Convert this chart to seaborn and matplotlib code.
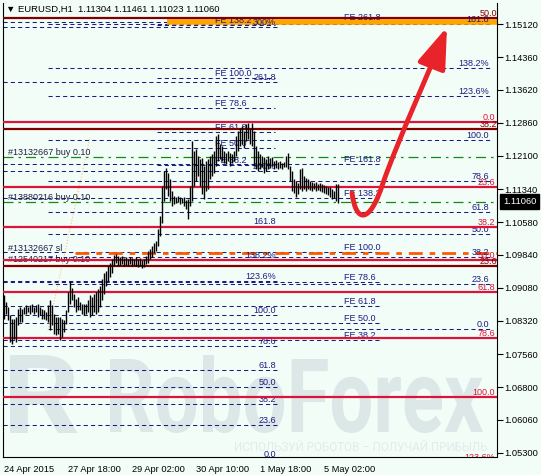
import numpy as np
import pandas as pd
import seaborn as sns
import matplotlib.pyplot as plt
from matplotlib.path import Path
from matplotlib.patches import FancyArrowPatch, PathPatch
from matplotlib.textpath import TextPath
from matplotlib.font_manager import FontProperties
from matplotlib.transforms import Affine2D, blended_transform_factory

# EURUSD H1 bars
highs = [1.08925, 1.08764, 1.08649, 1.08465, 1.08372, 1.08372, 1.08419, 1.08603, 1.08649, 1.08603,
         1.08649, 1.08695, 1.08649, 1.08695, 1.08718, 1.08649, 1.08695, 1.08718, 1.08649, 1.08603,
         1.08580, 1.08534, 1.08695, 1.08810, 1.08695, 1.08488, 1.08419, 1.08419, 1.08419, 1.08372,
         1.08349, 1.08580, 1.08994, 1.09225, 1.09063, 1.08948, 1.08833, 1.08879, 1.08764, 1.08718,
         1.08718, 1.08718, 1.08810, 1.08925, 1.08879, 1.08948, 1.08994, 1.09040, 1.09109, 1.09271,
         1.09409, 1.09455, 1.09570, 1.09639, 1.09731, 1.09823, 1.09846, 1.09800, 1.09777, 1.09800,
         1.09754, 1.09777, 1.09731, 1.09777, 1.09754, 1.09731, 1.09777, 1.09731, 1.09754, 1.09708,
         1.09731, 1.09800, 1.09916, 1.09962, 1.10031, 1.10100, 1.10146, 1.10422, 1.10722, 1.11412,
         1.11758, 1.11827, 1.11712, 1.11574, 1.11297, 1.11182, 1.11159, 1.11182, 1.11159, 1.11136,
         1.11159, 1.11090, 1.11113, 1.11412, 1.12449, 1.12219, 1.12265, 1.12103, 1.12034, 1.12057,
         1.11873, 1.11988, 1.12034, 1.12103, 1.12149, 1.12219, 1.12564, 1.12610, 1.12380, 1.12334,
         1.12219, 1.12172, 1.12219, 1.12172, 1.12149, 1.12219, 1.12564, 1.12679, 1.12748, 1.12794,
         1.12679, 1.12840, 1.12863, 1.12725, 1.12863, 1.12679, 1.12334, 1.12219, 1.12149, 1.12103,
         1.12080, 1.12034, 1.12103, 1.12057, 1.12080, 1.11988, 1.12011, 1.11965, 1.11988, 1.11942,
         1.11965, 1.12103, 1.12172, 1.11873, 1.11758, 1.11574, 1.11528, 1.11482, 1.11804, 1.11827,
         1.11643, 1.11597, 1.11574, 1.11528, 1.11505, 1.11482, 1.11505, 1.11459, 1.11482, 1.11459,
         1.11436, 1.11412, 1.11389, 1.11389, 1.11343, 1.11297, 1.11459, 1.11461]
lows = [1.08372, 1.08488, 1.08349, 1.07843, 1.07797, 1.07912, 1.07843, 1.08234, 1.08303, 1.08303,
        1.08488, 1.08488, 1.08534, 1.08488, 1.08534, 1.08488, 1.08534, 1.08419, 1.08465, 1.08372,
        1.08372, 1.08349, 1.08303, 1.08119, 1.08234, 1.08027, 1.08004, 1.08027, 1.07889, 1.07958,
        1.08073, 1.08257, 1.08534, 1.08718, 1.08810, 1.08649, 1.08534, 1.08580, 1.08580, 1.08488,
        1.08465, 1.08488, 1.08534, 1.08419, 1.08465, 1.08534, 1.08488, 1.08534, 1.08649, 1.08810,
        1.08948, 1.09109, 1.09225, 1.09317, 1.09409, 1.09570, 1.09639, 1.09570, 1.09593, 1.09616,
        1.09570, 1.09593, 1.09570, 1.09616, 1.09570, 1.09593, 1.09570, 1.09547, 1.09570, 1.09524,
        1.09547, 1.09616, 1.09639, 1.09731, 1.09777, 1.09869, 1.09916, 1.10031, 1.10261, 1.10560,
        1.11067, 1.11343, 1.11182, 1.11067, 1.10952, 1.10998, 1.11021, 1.11044, 1.10998, 1.11021,
        1.10952, 1.10883, 1.10653, 1.10952, 1.11067, 1.11412, 1.11528, 1.11643, 1.11412, 1.11228,
        1.11113, 1.11297, 1.11343, 1.11574, 1.11643, 1.11712, 1.11873, 1.11988, 1.12034, 1.11988,
        1.11942, 1.11919, 1.11988, 1.11873, 1.11942, 1.11988, 1.12103, 1.12219, 1.12334, 1.12380,
        1.12288, 1.12449, 1.12495, 1.12380, 1.12334, 1.11873, 1.11804, 1.11758, 1.11804, 1.11850,
        1.11712, 1.11758, 1.11804, 1.11827, 1.11873, 1.11804, 1.11827, 1.11804, 1.11827, 1.11804,
        1.11850, 1.11850, 1.11804, 1.11528, 1.11297, 1.11251, 1.11159, 1.11228, 1.11343, 1.11297,
        1.11343, 1.11297, 1.11343, 1.11320, 1.11297, 1.11343, 1.11297, 1.11320, 1.11297, 1.11274,
        1.11251, 1.11228, 1.11205, 1.11159, 1.11113, 1.11136, 1.11067, 1.11023]

title = "\u25bc EURUSD,H1  1.11304 1.11461 1.11023 1.11060"
last_price = 1.11060

x_ticks = [0, 32, 64, 96, 128, 160]
x_labels = ["24 Apr 2015", "27 Apr 18:00", "29 Apr 02:00", "30 Apr 10:00", "1 May 18:00", "5 May 02:00"]
y_ticks = [1.05300, 1.06060, 1.06800, 1.07560, 1.08320, 1.09080, 1.09840,
           1.10580, 1.11340, 1.12100, 1.12860, 1.13620, 1.14360, 1.15120]

# fibo objects: price at 0% and at 100%
red_fibo = (1.1287, 1.0658)
red_levels = [0.0, 23.6, 38.2, 50.0, 61.8, 78.6, 100.0, 123.6]
red_labels = ["0.0", "23.6", "38.2", "50.0", "61.8", "78.6", "100.0", "123.6%"]

maroon_fibo = (1.0451, 1.2600)
maroon_levels = [23.6, 38.2, 50.0]
maroon_labels = ["23.6", "38.2", "50.0"]

right_fibo = (1.0814, 1.1246)
right_levels = [0.0, 23.6, 38.2, 50.0, 61.8, 78.6, 100.0, 123.6, 138.2, 161.8]
right_labels = ["0.0", "23.6", "38.2", "50.0", "61.8", "78.6", "100.0", "123.6%", "138.2%", "161.8"]

left_fibo = (1.0516, 1.0846)
left_levels = [0.0, 23.6, 38.2, 50.0, 61.8, 78.6, 100.0, 123.6, 138.2, 161.8, 200.0, 261.8, 300.0]
left_labels = ["0.0", "23.6", "38.2", "50.0", "61.8", "78.6", "100.0", "123.6%", "138.2%",
               "161.8", "200%", "261.8", "300%"]

fe_upper = (1.1068, 1.1388)
fe_upper_levels = [38.2, 50.0, 61.8, 78.6, 100.0, 138.2]

fe_lower = (1.0665, 1.0990)
fe_lower_levels = [38.2, 50.0, 61.8, 78.6, 100.0, 138.2, 161.8, 261.8]

orders = [1.1207, 1.1104]
order_labels = ["#13132667 buy 0.10", "#13880216 buy 0.10"]
stop_price = 1.0988
stop_labels = ["#13132667 sl", "#12540217 buy 0.10"]
stop_label_prices = [1.0988, 1.0962]
target_price = 1.1517

trade_x = [22, 43]
trade_y = [1.0811, 1.1253]

# forecast arrow (bar index, price)
arrow_x = [174, 176, 183, 189.5, 198, 212, 221.5]
arrow_y = [1.11250, 1.10540, 1.10540, 1.11479, 1.12578, 1.13952, 1.15051]

W, H = 541, 475
BG = "#F3FDF8"
NAVY = "#1C1C80"
RED = "#DC143C"
MAROON = "#800000"

sns.set_style("white")
plt.rcParams["font.family"] = ["Liberation Sans", "DejaVu Sans"]

fig = plt.figure(figsize=(W / 100, H / 100), dpi=100, facecolor=BG)
ax = fig.add_axes([3 / W, 18 / H, 494 / W, 454 / H])
ax.set_facecolor(BG)
ax.set_xlim(-0.5, 246.5)
ax.set_ylim(1.05204, 1.15601)

df = pd.DataFrame({"bar": np.arange(len(highs)), "high": highs, "low": lows})


def fibo_prices(anchor, levels):
    p0, p100 = anchor
    return [p0 + (p100 - p0) * l / 100.0 for l in levels]


def watermark(text, box, color, weight="normal"):
    fp = FontProperties(family="Roboto", weight=weight)
    tp = TextPath((0, 0), text, size=100, prop=fp)
    bb = tp.get_extents()
    x0, y0, w, h = box
    tr = (Affine2D().translate(-bb.x0, -bb.y0).scale(w / bb.width, h / bb.height)
          .translate(x0, y0).scale(1 / W, 1 / H) + fig.transFigure)
    ax.add_patch(PathPatch(tp, fc=color, ec="none", transform=tr, zorder=0.5))


watermark("R", (10, 42, 67, 78), "#DCE7E7", weight="bold")
watermark("RoboForex", (110, 42, 373, 78), "#DCE7E7", weight="bold")
watermark("\u0418\u0421\u041f\u041e\u041b\u042c\u0417\u0423\u0419 \u0420\u041e\u0411\u041e\u0422\u041e\u0412 \u2013 "
          "\u041f\u041e\u041b\u0423\u0427\u0410\u0419 \u041f\u0420\u0418\u0411\u042b\u041b\u042c",
          (235, 24, 252, 11), "#E2EBEB")

dash = (0, (4, 3))
lab = dict(fontsize=6.5, va="bottom", clip_on=True)

# left navy fibo
yy = fibo_prices(left_fibo, left_levels)
ax.hlines(yy, -0.5, 136.5, colors=NAVY, linestyles=dash, lw=0.75, zorder=2)
for y, t in zip(yy, left_labels):
    ax.text(136, y, t, ha="right", color=NAVY, **lab)

# right navy fibo
yy = fibo_prices(right_fibo, right_levels)
ax.hlines(yy, 22, 243, colors=NAVY, linestyles=dash, lw=0.75, zorder=2)
for y, t in zip(yy, right_labels):
    ax.text(242.5, y, t, ha="right", color=NAVY, **lab)

# fibo expansions
yy = fibo_prices(fe_upper, fe_upper_levels)
ax.hlines(yy, 76.5, 135.5, colors=NAVY, linestyles=dash, lw=0.75, zorder=2)
for y, l in zip(yy, fe_upper_levels):
    ax.text(105.5, y, f"FE {l:.1f}", ha="left", color=NAVY, **lab)

yy = fibo_prices(fe_lower, fe_lower_levels)
ax.hlines(yy, -0.5, 189, colors=NAVY, linestyles=dash, lw=0.75, zorder=2)
for y, l in zip(yy, fe_lower_levels):
    ax.text(170, y, f"FE {l:.1f}", ha="left", color=NAVY, **lab)

# order lines
ax.hlines(orders, -0.5, 246.5, colors="#118A11", linestyles=(0, (8, 4, 2, 4)), lw=0.9, zorder=2)
for y, t in zip(orders, order_labels):
    ax.text(2, y, t, ha="left", color="#202040", **lab)
ax.hlines(stop_price, 35.5, 246.5, colors="#FF5A00", linestyles=(0, (5, 2.5, 2, 2.5)), lw=2.0, zorder=2)
for y, t in zip(stop_label_prices, stop_labels):
    ax.text(2, y, t, ha="left", color="#202040", **lab)
ax.hlines(target_price, 81.5, 246.5, colors="#FFA500", lw=4.0, zorder=2)

# red and maroon fibo
yy = fibo_prices(red_fibo, red_levels)
ax.hlines(yy, -0.5, 246.5, colors=RED, lw=1.6, zorder=3)
for y, t in zip(yy, red_labels):
    ax.text(245.5, y, t, ha="right", color=RED, **lab)
yy = fibo_prices(maroon_fibo, maroon_levels)
ax.hlines(yy, -0.5, 246.5, colors=MAROON, lw=1.6, zorder=3)
for y, t in zip(yy, maroon_labels):
    ax.text(246.5, y, t, ha="right", color=MAROON, **lab)

# trade line
sns.lineplot(x=trade_x, y=trade_y, ax=ax, color="#FFBE80", lw=0.8, linestyle=":", zorder=2)

# price bars
ax.vlines(df["bar"], df["low"], df["high"], colors="black", lw=1.0, zorder=4)

# forecast arrow
codes = [Path.MOVETO] + [Path.CURVE4] * 6
arrow = FancyArrowPatch(path=Path(np.column_stack([arrow_x, arrow_y]), codes),
                        arrowstyle="-|>,head_length=1.0,head_width=0.35",
                        mutation_scale=25, color="#E8232A", lw=3.5, zorder=6)
ax.add_patch(arrow)

# axes
ax.spines["top"].set_visible(False)
for s in ["left", "right", "bottom"]:
    ax.spines[s].set_color("black")
    ax.spines[s].set_linewidth(0.8)
ax.yaxis.tick_right()
ax.set_yticks(y_ticks)
ax.set_yticklabels([f"{v:.5f}" for v in y_ticks])
ax.set_xticks(x_ticks)
ax.set_xticklabels(x_labels, ha="left")
ax.tick_params(axis="both", direction="out", length=4, width=0.8, labelsize=6.7, pad=1.5,
               colors="black")
ax.tick_params(axis="x", pad=1.5)
ax.grid(False)

tr = blended_transform_factory(ax.transAxes, ax.transData)
ax.text(1.012, last_price, f"{last_price:.5f}", transform=tr, ha="left", va="center",
        color="white", fontsize=6.7, clip_on=False, zorder=7,
        bbox=dict(boxstyle="square,pad=0.3", fc="black", ec="black"))

fig.text(6 / W, 1 - 9 / H, title, va="center", ha="left", fontsize=6.8, color="black")

fig.savefig("out.png", dpi=100, facecolor=fig.get_facecolor())
